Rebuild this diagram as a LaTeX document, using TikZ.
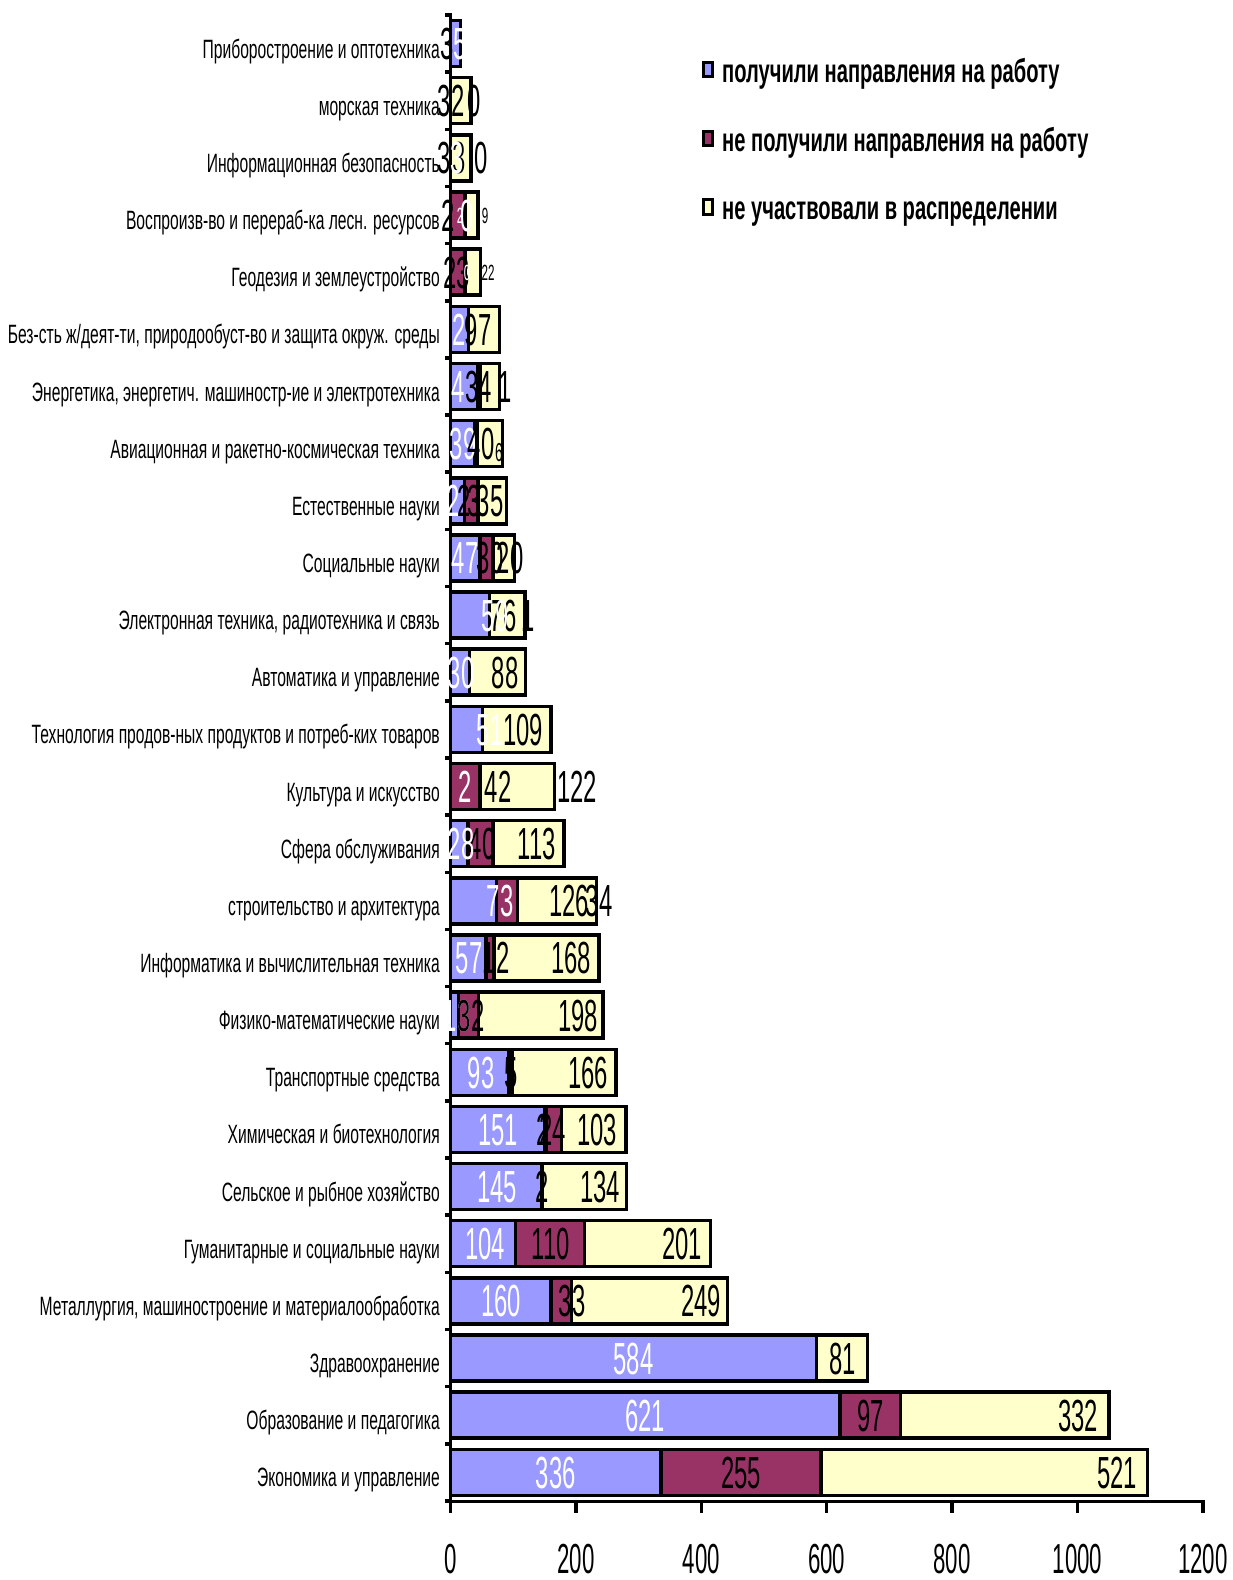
\documentclass[tikz,border=0pt]{standalone}
\usepackage{fontspec}
\setmainfont{Liberation Sans}
\newfontfamily\catfont{Liberation Sans}[FakeStretch=0.59]
\newfontfamily\numfont{Liberation Sans}[FakeStretch=0.53]
\newfontfamily\legfont{Liberation Sans}[FakeStretch=0.61]
\definecolor{barblue}{HTML}{9999FF}
\definecolor{barplum}{HTML}{993366}
\definecolor{baryel}{HTML}{FFFFCC}
\tikzset{
 barline/.style={line width=3.5pt, draw=black},
 axisline/.style={line width=3.5pt, draw=black},
 cat/.style={anchor=base east, inner sep=0pt, font=\catfont\fontsize{26.5}{30}\selectfont},
 num/.style={anchor=base, inner sep=0pt, font=\numfont\fontsize{45}{50}\selectfont},
 numw/.style={num, text=white},
 nume/.style={num, anchor=base east},
 smallnum/.style={anchor=base, inner sep=0pt, font=\numfont\fontsize{22}{24}\selectfont},
 axlab/.style={anchor=base, inner sep=0pt, font=\numfont\fontsize{42}{46}\selectfont},
 leg/.style={anchor=base west, inner sep=0pt, font=\legfont\bfseries\fontsize{33}{36}\selectfont},
 legbox/.style={line width=3pt, draw=black},
}
% y-centre, from, to (data units), colour
\newcommand\seg[4]{\draw[barline, fill=#4] ({450.5+0.627*#2},{#1-23}) rectangle ({450.5+0.627*#3},{#1+23});}
% style, name, x, y-centre, text
\newcommand\lbl[5]{\node[#1] (#2) at (#3,{#4+16}) {#5};}
\begin{document}
\begin{tikzpicture}[x=1pt,y=-1pt]
\useasboundingbox (0,0) rectangle (1232,1580);
\fill[white] (0,0) rectangle (1232,1580);
% ---------------- bars ----------------
\seg{43.58}{0}{16}{barblue}
\seg{100.73}{0}{33}{baryel}
\seg{157.88}{0}{33}{baryel}
\seg{215.03}{0}{23}{barplum}\seg{215.03}{23}{44}{baryel}
\seg{272.18}{0}{23}{barplum}\seg{272.18}{23}{48}{baryel}
\seg{329.33}{0}{29}{barblue}\seg{329.33}{29}{78}{baryel}
\seg{386.48}{0}{43}{barblue}\seg{386.48}{43}{47}{barplum}\seg{386.48}{47}{78}{baryel}
\seg{443.63}{0}{39}{barblue}\seg{443.63}{39}{43}{barplum}\seg{443.63}{43}{83}{baryel}
\seg{500.78}{0}{22}{barblue}\seg{500.78}{22}{44}{barplum}\seg{500.78}{44}{89}{baryel}
\seg{557.93}{0}{47}{barblue}\seg{557.93}{47}{68}{barplum}\seg{557.93}{68}{102}{baryel}
\seg{615.08}{0}{62}{barblue}\seg{615.08}{62}{119}{baryel}
\seg{672.23}{0}{30}{barblue}\seg{672.23}{30}{120}{baryel}
\seg{729.38}{0}{51}{barblue}\seg{729.38}{51}{160}{baryel}
\seg{786.53}{0}{47}{barplum}\seg{786.53}{47}{166}{baryel}
\seg{843.68}{0}{28}{barblue}\seg{843.68}{28}{68}{barplum}\seg{843.68}{68}{181}{baryel}
\seg{900.83}{0}{73}{barblue}\seg{900.83}{73}{107}{barplum}\seg{900.83}{107}{233}{baryel}
\seg{957.98}{0}{57}{barblue}\seg{957.98}{57}{69}{barplum}\seg{957.98}{69}{237}{baryel}
\seg{1015.13}{0}{13}{barblue}\seg{1015.13}{13}{45}{barplum}\seg{1015.13}{45}{243}{baryel}
\seg{1072.28}{0}{93}{barblue}\seg{1072.28}{93}{98}{barplum}\seg{1072.28}{98}{264}{baryel}
\seg{1129.43}{0}{151}{barblue}\seg{1129.43}{151}{153}{barplum}\seg{1129.43}{153}{177}{barplum}\seg{1129.43}{177}{280}{baryel}
\seg{1186.58}{0}{145}{barblue}\seg{1186.58}{145}{147}{barplum}\seg{1186.58}{147}{281}{baryel}
\seg{1243.73}{0}{104}{barblue}\seg{1243.73}{104}{214}{barplum}\seg{1243.73}{214}{415}{baryel}
\seg{1300.88}{0}{160}{barblue}\seg{1300.88}{160}{193}{barplum}\seg{1300.88}{193}{442}{baryel}
\seg{1358.03}{0}{584}{barblue}\seg{1358.03}{584}{665}{baryel}
\seg{1415.18}{0}{621}{barblue}\seg{1415.18}{621}{718}{barplum}\seg{1415.18}{718}{1050}{baryel}
\seg{1472.33}{0}{336}{barblue}\seg{1472.33}{336}{591}{barplum}\seg{1472.33}{591}{1112}{baryel}
% ---------------- axes ----------------
\draw[axisline] (450.5,13) -- (450.5,1502);
\foreach \k in {0,...,26} \draw[axisline] (445,{15+57.15*\k}) -- (450.5,{15+57.15*\k});
\draw[axisline] (449,1501.7) -- (1204.5,1501.7);
\foreach \v in {0,200,...,1200} \draw[axisline] ({450.5+0.627*\v},1501.7) -- ({450.5+0.627*\v},1513);
\node[axlab] (x0) at (450.5,1573) {0};
\node[axlab] (x200) at (575.9,1573) {200};
\node[axlab] (x400) at (701.3,1573) {400};
\node[axlab] (x600) at (826.7,1573) {600};
\node[axlab] (x800) at (952.1,1573) {800};
\node[axlab] (x1000) at (1077.5,1573) {1000};
\node[axlab] (x1200) at (1202.9,1573) {1200};
% ---------------- category labels ----------------
\node[cat] (c1) at (440,58.1) {Приборостроение и оптотехника};
\node[cat] (c2) at (440,115.2) {морская техника};
\node[cat] (c3) at (440,172.4) {Информационная безопасность};
\node[cat] (c4) at (440,229.5) {Воспроизв-во и перераб-ка лесн. ресурсов};
\node[cat] (c5) at (440,286.7) {Геодезия и землеустройство};
\node[cat] (c6) at (440,343.8) {Без-сть ж/деят-ти, природообуст-во и защита окруж. среды};
\node[cat] (c7) at (440,401.0) {Энергетика, энергетич. машиностр-ие и электротехника};
\node[cat] (c8) at (440,458.1) {Авиационная и ракетно-космическая техника};
\node[cat] (c9) at (440,515.3) {Естественные науки};
\node[cat] (c10) at (440,572.4) {Социальные науки};
\node[cat] (c11) at (440,629.6) {Электронная техника, радиотехника и связь};
\node[cat] (c12) at (440,686.7) {Автоматика и управление};
\node[cat] (c13) at (440,743.9) {Технология продов-ных продуктов и потреб-ких товаров};
\node[cat] (c14) at (440,801.0) {Культура и искусство};
\node[cat] (c15) at (440,858.2) {Сфера обслуживания};
\node[cat] (c16) at (440,915.3) {строительство и архитектура};
\node[cat] (c17) at (440,972.5) {Информатика и вычислительная техника};
\node[cat] (c18) at (440,1029.6) {Физико-математические науки};
\node[cat] (c19) at (440,1086.8) {Транспортные средства};
\node[cat] (c20) at (440,1143.9) {Химическая и биотехнология};
\node[cat] (c21) at (440,1201.1) {Сельское и рыбное хозяйство};
\node[cat] (c22) at (440,1258.2) {Гуманитарные и социальные науки};
\node[cat] (c23) at (440,1315.4) {Металлургия, машиностроение и материалообработка};
\node[cat] (c24) at (440,1372.5) {Здравоохранение};
\node[cat] (c25) at (440,1429.7) {Образование и педагогика};
\node[cat] (c26) at (440,1486.8) {Экономика и управление};
% ---------------- data labels ----------------
\lbl{num}{r1a}{447}{43.58}{3}\lbl{numw}{r1b}{460}{43.58}{5}
\lbl{num}{r2a}{451}{100.73}{32}\lbl{num}{r2b}{474}{100.73}{0}
\lbl{num}{r3a}{444}{157.88}{3}\lbl{num}{r3b}{459.5}{157.88}{3}\lbl{numw}{r3c}{457.5}{157.88}{3}\lbl{num}{r3d}{481}{157.88}{0}
\lbl{num}{r4a}{448}{215.03}{2}\lbl{numw}{r4b}{467}{215.03}{0}
\node[smallnum,text=white] (r4c) at (460,223) {2};
\node[smallnum] (r4d) at (485,223) {9};
\lbl{num}{r5a}{450}{272.18}{2}\lbl{num}{r5b}{463}{272.18}{3}
\node[smallnum,text=white] (r5c) at (467,280) {0};
\node[smallnum] (r5d) at (488,280) {22};
\lbl{numw}{r6a}{459}{329.33}{2}\lbl{num}{r6b}{478}{329.33}{97}
\lbl{numw}{r7a}{458}{386.48}{4}\lbl{num}{r7b}{478.5}{386.48}{34}\lbl{num}{r7c}{505}{386.48}{1}
\lbl{numw}{r8a}{463}{443.63}{39}\lbl{num}{r8b}{481}{443.63}{40}
\node[smallnum,font=\numfont\fontsize{26}{28}\selectfont] (r8c) at (499,461) {6};
\lbl{numw}{r9a}{453}{500.78}{2}\lbl{num}{r9b}{464}{500.78}{2}\lbl{num}{r9c}{474}{500.78}{3}\lbl{num}{r9d}{490}{500.78}{35}
\lbl{numw}{r10a}{465}{557.93}{47}\lbl{num}{r10b}{490}{557.93}{30}\lbl{num}{r10c}{510}{557.93}{20}
\lbl{num}{r11b}{503}{615.08}{76}\lbl{numw}{r11a}{495}{615.08}{59}\lbl{num}{r11c}{528}{615.08}{1}
\lbl{numw}{r12a}{461}{672.23}{30}\lbl{num}{r12b}{505}{672.23}{88}
\lbl{numw}{r13a}{490}{729.38}{51}\lbl{num}{r13b}{523}{729.38}{109}
\lbl{numw}{r14a}{465}{786.53}{2}\lbl{num}{r14b}{498}{786.53}{42}\lbl{num}{r14c}{577}{786.53}{122}
\lbl{num}{r15b}{482}{843.68}{40}\lbl{numw}{r15a}{461}{843.68}{28}\lbl{num}{r15c}{537}{843.68}{113}
\lbl{numw}{r16a}{500}{900.83}{73}\lbl{num}{r16b}{569}{900.83}{126}\lbl{num}{r16c}{599}{900.83}{34}
\lbl{numw}{r17a}{469}{957.98}{57}\lbl{num}{r17b}{496}{957.98}{12}\lbl{num}{r17c}{571}{957.98}{168}
\lbl{numw}{r18a}{457}{1015.13}{13}\lbl{num}{r18b}{471}{1015.13}{32}\lbl{num}{r18c}{578}{1015.13}{198}
\lbl{numw}{r19a}{481}{1072.28}{93}\lbl{num}{r19b}{511}{1072.28}{5}\lbl{num}{r19c}{588}{1072.28}{166}
\lbl{numw}{r20a}{498}{1129.43}{151}\lbl{num}{r20b}{543}{1129.43}{2}\lbl{num}{r20c}{552.5}{1129.43}{24}\lbl{num}{r20d}{597}{1129.43}{103}
\lbl{numw}{r21a}{497}{1186.58}{145}\lbl{num}{r21b}{542}{1186.58}{2}\lbl{num}{r21c}{600}{1186.58}{134}
\lbl{numw}{r22a}{485}{1243.73}{104}\lbl{num}{r22b}{551}{1243.73}{110}\lbl{num}{r22c}{682}{1243.73}{201}
\lbl{numw}{r23a}{501}{1300.88}{160}\lbl{num}{r23b}{572}{1300.88}{33}\lbl{num}{r23c}{701}{1300.88}{249}
\lbl{numw}{r24a}{633.6}{1358.03}{584}\lbl{nume}{r24b}{856}{1358.03}{81}
\lbl{numw}{r25a}{645.2}{1415.18}{621}\lbl{num}{r25b}{870.3}{1415.18}{97}\lbl{nume}{r25c}{1098}{1415.18}{332}
\lbl{numw}{r26a}{555.8}{1472.33}{336}\lbl{num}{r26b}{741.1}{1472.33}{255}\lbl{nume}{r26c}{1137}{1472.33}{521}
% ---------------- legend ----------------
\draw[legbox, fill=barblue] (703,62.5) rectangle (712,76);
\draw[legbox, fill=barplum] (703,131) rectangle (712,145.5);
\draw[legbox, fill=baryel] (703,199.5) rectangle (712,214);
\node[leg] (g1) at (722,82) {получили направления на работу};
\node[leg] (g2) at (722,151) {не получили направления на работу};
\node[leg] (g3) at (722,219) {не участвовали в распределении};
\end{tikzpicture}
\end{document}
